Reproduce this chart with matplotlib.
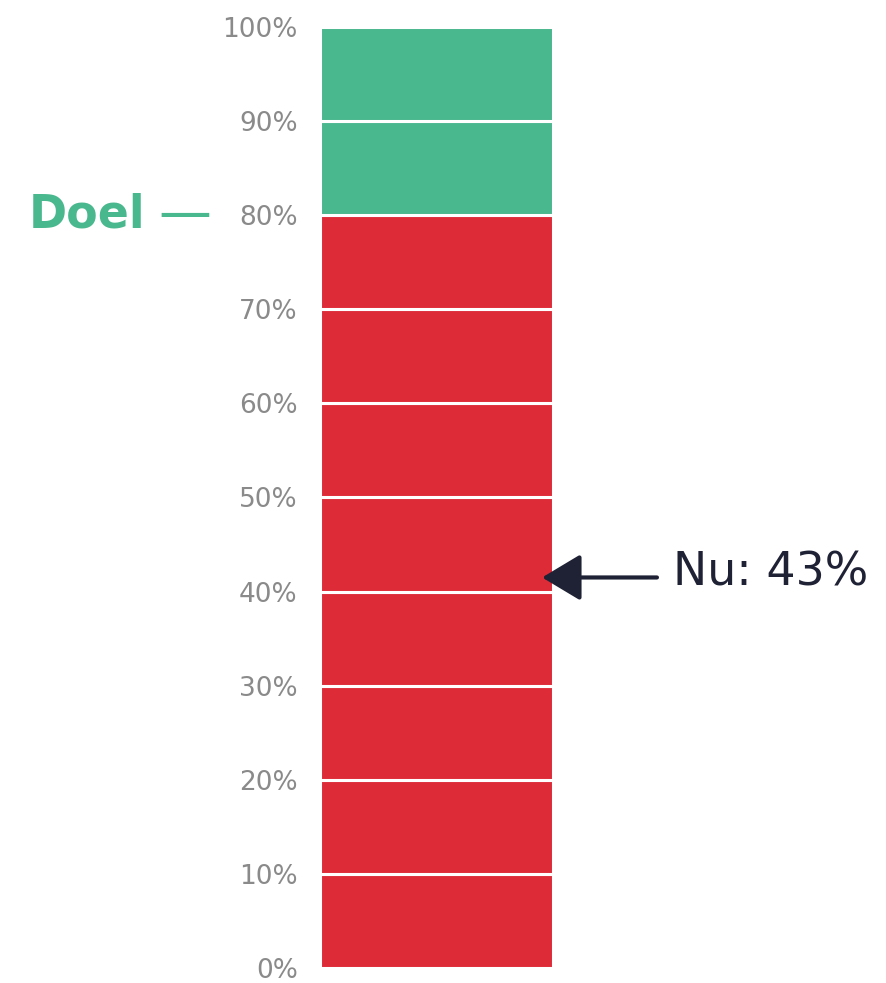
import numpy as np
import matplotlib.pyplot as plt
from matplotlib.ticker import FixedLocator

# data
levels = [0, 10, 20, 30, 40, 50, 60, 70, 80, 90, 100]
tick_labels = ['0%', '10%', '20%', '30%', '40%', '50%', '60%', '70%', '80%', '90%', '100%']
goal = 80
current = 43
pointer_level = 41.5

red = '#de2b38'
green = '#4ab88e'
navy = '#1f2235'

fig = plt.figure(figsize=(8.86, 9.83), dpi=100)
ax = fig.add_axes([0.3612, 0.0153, 0.263, 0.9572])

bottoms = levels[:-1]
heights = np.diff(levels)
colors = [green if b >= goal else red for b in bottoms]
ax.bar(np.zeros(len(bottoms)), heights, bottom=bottoms, width=1.0,
       color=colors, edgecolor='white', linewidth=2.2)

ax.set_xlim(-0.5, 0.5)
ax.set_ylim(0, 100)
for s in ax.spines.values():
    s.set_visible(False)
ax.set_xticks([])
ax.yaxis.set_major_locator(FixedLocator(levels))
ax.set_yticklabels(tick_labels, fontsize=19, color='#8a8a8a', family='DejaVu Sans')
ax.tick_params(axis='y', length=0, pad=16)

# goal label
ax.text(-1.251, goal, 'Doel', ha='right', va='center', fontsize=33,
        fontweight='bold', color=green, family='DejaVu Sans', clip_on=False)
ax.text(-1.079, goal, '\u2014', ha='center', va='center', fontsize=38,
        color=green, family='DejaVu Sans', clip_on=False)

# current pointer
ax.annotate('', xy=(0.453, pointer_level), xytext=(0.946, pointer_level),
            arrowprops=dict(arrowstyle='-|>,head_length=1.2,head_width=0.72',
                            mutation_scale=20, color=navy, lw=3,
                            shrinkA=0, shrinkB=0),
            annotation_clip=False)
ax.text(1.015, 42.0, f'Nu: {current}%', ha='left', va='center', fontsize=33,
        color=navy, family='DejaVu Sans', clip_on=False)

fig.savefig('out.png', dpi=100, facecolor='white')
